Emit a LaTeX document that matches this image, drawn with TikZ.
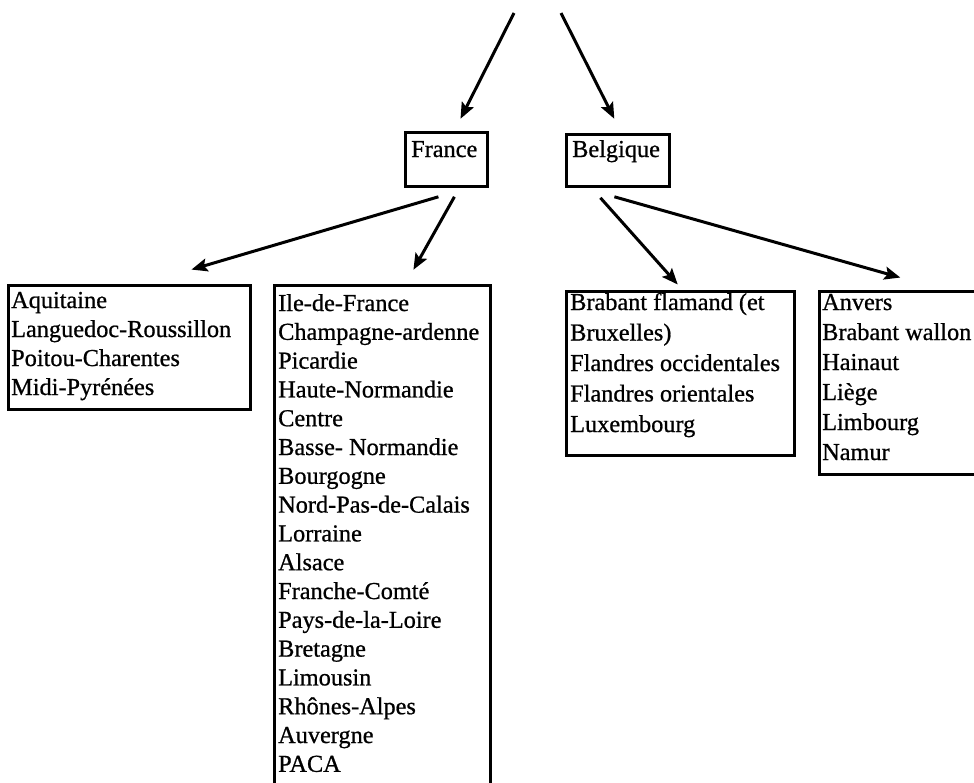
\documentclass[tikz,border=0pt]{standalone}
\usepackage{fontspec}
\setmainfont{Liberation Serif}[RawFeature={embolden=0.8}]
\usetikzlibrary{arrows.meta}

\begin{document}
\begin{tikzpicture}[x=1pt,y=-1pt,
  box/.style={draw, line width=2.8pt, rectangle, inner sep=0pt, minimum width=#1},
  txt/.style={inner sep=0pt, anchor=base west, font=\fontsize{24.3}{29}\selectfont},
  link/.style={line width=3pt, -{Stealth[length=16pt,width=13pt,inset=3pt]}, shorten >=-2pt}
]
\useasboundingbox (0,0) rectangle (974,782);
\clip (0,0) rectangle (974,782);

% country boxes
\node[box=82pt, minimum height=54pt, anchor=north west] (fr) at (404,131) {};
\node[txt] (frt) at (411,157) {France};
\node[box=103pt, minimum height=52pt, anchor=north west] (be) at (565,133) {};
\node[txt] (bet) at (572,157) {Belgique};

% region boxes
\node[box=242pt, minimum height=124pt, anchor=north west] (aq) at (7,284) {};
\node[txt] (aqt) at (11,308) {\vtop{\hbox{Aquitaine}\hbox{Languedoc-Roussillon}\hbox{Poitou-Charentes}\hbox{Midi-Pyrénées}}};

\node[box=216pt, minimum height=530pt, anchor=north west] (idf) at (273,284) {};
\node[txt] (idft) at (278,311) {\vtop{\baselineskip=28.8pt\hbox{Ile-de-France}\hbox{Champagne-ardenne}\hbox{Picardie}\hbox{Haute-Normandie}\hbox{Centre}\hbox{Basse- Normandie}\hbox{Bourgogne}\hbox{Nord-Pas-de-Calais}\hbox{Lorraine}\hbox{Alsace}\hbox{Franche-Comté}\hbox{Pays-de-la-Loire}\hbox{Bretagne}\hbox{Limousin}\hbox{Rhônes-Alpes}\hbox{Auvergne}\hbox{PACA}}};

\node[box=228pt, minimum height=164pt, anchor=north west] (bf) at (565,290) {};
\node[txt] (bft) at (570,310) {\vtop{\baselineskip=30.5pt\hbox{Brabant flamand (et}\hbox{Bruxelles)}\hbox{Flandres occidentales}\hbox{Flandres orientales}\hbox{Luxembourg}}};

\node[box=180pt, minimum height=183pt, anchor=north west] (an) at (818,290) {};
\node[txt] (ant) at (822,310) {\vtop{\baselineskip=30pt\hbox{Anvers}\hbox{Brabant wallon}\hbox{Hainaut}\hbox{Liège}\hbox{Limbourg}\hbox{Namur}}};

% free ends of the two upper arrows
\coordinate (topl) at (514,13);
\coordinate (topr) at (561,13);

% connectors
\draw[link] (topl) -- ([shift={(15,-14)}]fr.north);
\draw[link] (topr) -- ([shift={(-4.5,-16)}]be.north);
\draw[link] ([shift={(-8,9)}]fr.south) -- ([shift={(64,-15)}]aq.north);
\draw[link] ([shift={(8,9)}]fr.south) -- ([shift={(32,-16)}]idf.north);
\draw[link] ([shift={(-17.5,10)}]be.south) -- ([shift={(-4,-7)}]bf.north);
\draw[link] ([shift={(-3.5,9)}]be.south) -- ([shift={(-11,-13)}]an.north);
\end{tikzpicture}
\end{document}
